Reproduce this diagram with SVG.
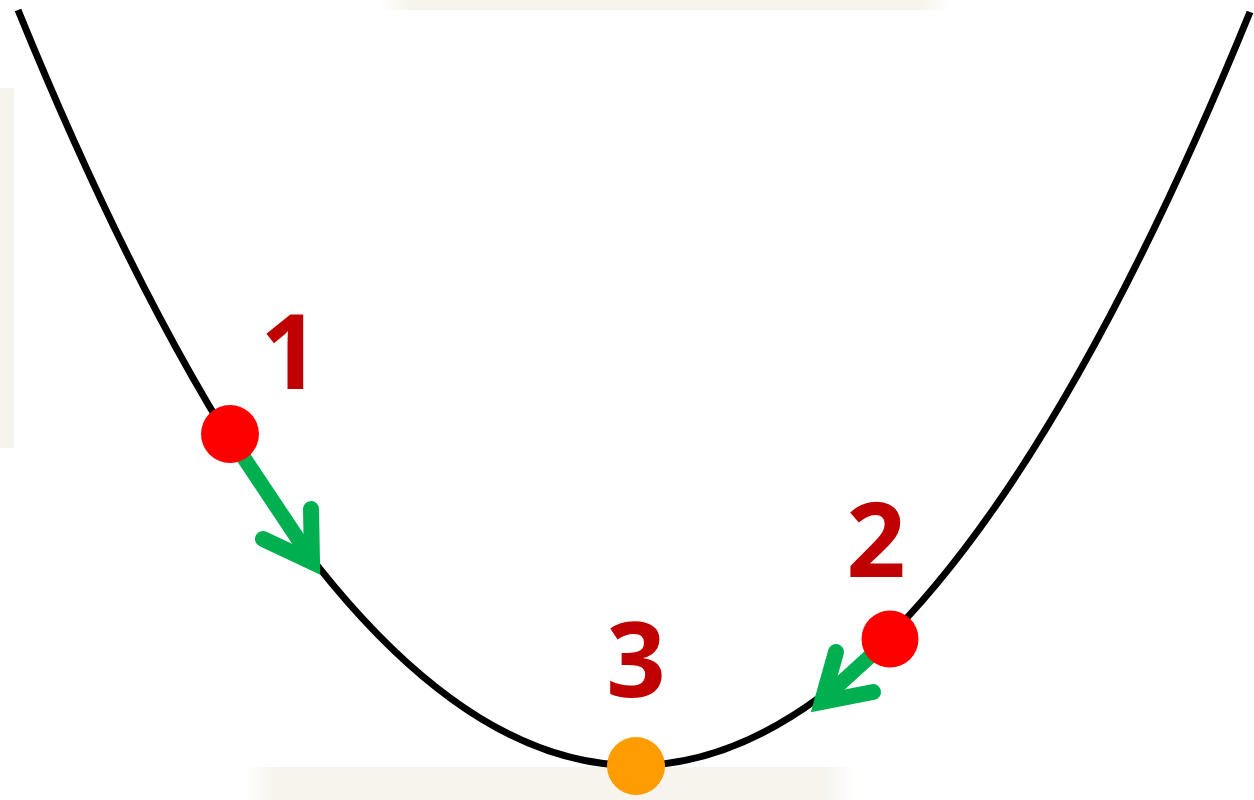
<svg xmlns="http://www.w3.org/2000/svg" width="1254" height="800" viewBox="0 0 1254 800">
  <defs>
    <style>
      .bg { fill: #f6f4ec; }
      .curve { fill: none; stroke: #000000; stroke-width: 7; }
      .arrow { fill: none; stroke: #00b050; stroke-width: 15; stroke-linecap: round; stroke-linejoin: miter; }
      .head { fill: none; stroke: #00b050; stroke-width: 16; stroke-linecap: round; stroke-linejoin: miter; stroke-miterlimit: 6; }
      .label { font-family: "Open Sans", "Liberation Sans", sans-serif; font-weight: bold; font-size: 104px; fill: #c00000; text-anchor: middle; }
      .red { fill: #ff0000; }
      .orange { fill: #ff9c00; }
    </style>
    <linearGradient id="fadeB" x1="0" y1="0" x2="1" y2="0">
      <stop offset="0" stop-color="#f6f4ec" stop-opacity="0"/>
      <stop offset="0.05" stop-color="#f6f4ec" stop-opacity="1"/>
      <stop offset="0.95" stop-color="#f6f4ec" stop-opacity="1"/>
      <stop offset="1" stop-color="#f6f4ec" stop-opacity="0"/>
    </linearGradient>
  </defs>
  <rect width="1254" height="800" fill="#ffffff"/>
  <g id="background">
    <rect x="380" y="0" width="570" height="10" fill="url(#fadeB)"/>
    <rect x="0" y="88" width="14" height="360" class="bg"/>
    <rect x="245" y="767" width="610" height="33" fill="url(#fadeB)"/>
  </g>
  <g id="curve">
    <path class="curve" d="M18,10 Q634,1520 1250,12"/>
  </g>
  <g id="connectors">
    <path class="arrow" d="M236,446 L312,560"/>
    <path class="head" d="M311,509 L312,562 L263,539"/>
    <path class="arrow" d="M876,651 L822,700"/>
    <path class="head" d="M836,652 L822,702 L873,692"/>
  </g>
  <g id="node1">
    <circle class="red" cx="230" cy="434" r="29"/>
    <text class="label" x="290" y="389">1</text>
  </g>
  <g id="node2">
    <circle class="red" cx="890" cy="639" r="28.5"/>
    <text class="label" x="876" y="577">2</text>
  </g>
  <g id="node3">
    <circle class="orange" cx="636" cy="766" r="29"/>
    <text class="label" x="636" y="697">3</text>
  </g>
</svg>
